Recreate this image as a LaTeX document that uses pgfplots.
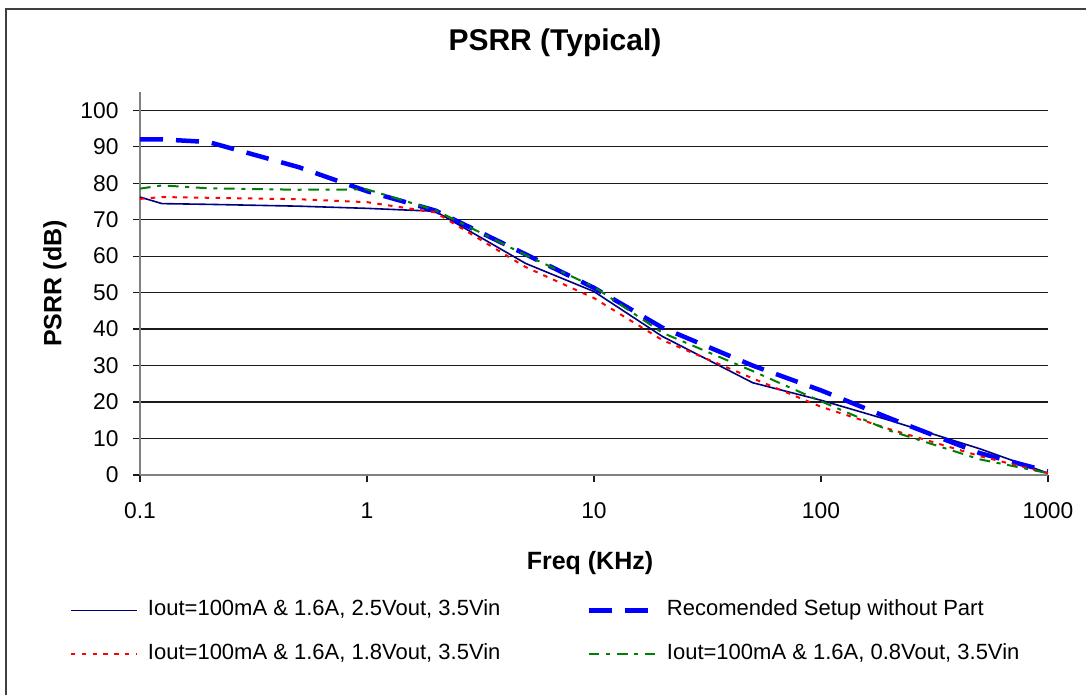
\documentclass[border=0pt]{standalone}
\usepackage{fontspec}
\setmainfont{Liberation Sans}
\usepackage{pgfplots}
\pgfplotsset{compat=1.18}
\definecolor{navyline}{HTML}{000080}
\definecolor{blueline}{HTML}{0000FF}
\definecolor{redline}{HTML}{FF0000}
\definecolor{greenline}{HTML}{008000}
\definecolor{gridc}{HTML}{1A1A1A}
\definecolor{axisc}{HTML}{808080}
\begin{document}
\begin{tikzpicture}[x=1pt,y=1pt]
\useasboundingbox (0,0) rectangle (1086,694);
\draw[line width=1.7pt, draw=black!75] (6,685) rectangle (1110,-30);
\begin{axis}[
  at={(140pt,219pt)}, anchor=south west,
  scale only axis, width=908pt, height=383pt,
  xmode=log, log basis x=10,
  xmin=0.1, xmax=1000, ymin=0, ymax=105,
  xtick={0.1,1,10,100,1000},
  xticklabels={0.1,1,10,100,1000},
  xminorticks=false,
  ytick={0,10,20,30,40,50,60,70,80,90,100},
  axis x line*=bottom, axis y line*=left,
  axis line style={draw=axisc, line width=1.6pt},
  ymajorgrids, grid style={gridc, line width=1.2pt},
  tick style={gridc, line width=1.2pt}, tick align=outside, major tick length=7pt,
  /pgf/number format/assume math mode=true,
  tick label style={font=\fontsize{22.8}{27}\selectfont},
  xticklabel style={yshift=-17pt},
  yticklabel style={xshift=-11pt},
  title={PSRR (Typical)},
  title style={at={(axis description cs:0.457,1.093)}, anchor=base, font=\fontsize{30}{36}\selectfont\bfseries},
  xlabel={Freq (KHz)}, ylabel={PSRR (dB)},
  label style={font=\fontsize{25}{30}\selectfont\bfseries},
  xlabel style={at={(axis description cs:0.4956,-0.229)}, anchor=center},
  ylabel style={at={(axis description cs:-0.0936,0.5)}, anchor=center},
  legend columns=2,
  legend image code/.code={\draw[#1] (0pt,0pt) -- (66pt,0pt);},
  legend style={draw=none, fill=none, inner sep=0pt, outer sep=0pt,
    at={(axis description cs:-0.0771,-0.3260)}, anchor=north west,
    font=\fontsize{22}{26}\selectfont, row sep=23pt,
    nodes={inner sep=0pt, text height=16pt, text depth=5pt},
    cells={anchor=west},
    /tikz/every odd column/.append style={column sep=10pt},
    /tikz/every even column/.append style={column sep=86pt}},
]
\addplot[navyline, line width=1.6pt] coordinates {
 (0.1,76.2) (0.125,74.4) (0.2,74.2) (0.5,73.7) (1,73.1) (2,72.3) (5,58) (10,50.3)
 (20,38) (50,25.3) (100,20.5) (200,15) (500,7.2) (1000,0.5)};
\addlegendentry{Iout=100mA \& 1.6A, 2.5Vout, 3.5Vin}
\addplot[blueline, line width=4.5pt, dash pattern=on 23pt off 13pt] coordinates {
 (0.1,92) (0.125,92) (0.2,91.3) (0.5,84.4) (1,77.8) (2,72.5) (5,60.5) (10,51.3)
 (20,40.4) (50,30) (100,23.2) (200,15.6) (500,6) (1000,1)};
\addlegendentry{Recomended Setup without Part}
\addplot[redline, line width=2pt, dash pattern=on 4.5pt off 6.3pt] coordinates {
 (0.1,75.7) (0.125,76.2) (0.2,76) (0.5,75.6) (1,74.8) (2,72) (5,57) (10,48.5)
 (20,37) (50,26.5) (100,18.7) (200,12.6) (500,5.2) (1000,0.5)};
\addlegendentry{Iout=100mA \& 1.6A, 1.8Vout, 3.5Vin}
\addplot[greenline, line width=2pt, dash pattern=on 10.7pt off 6.7pt on 4pt off 6.7pt] coordinates {
 (0.1,78.5) (0.125,79.4) (0.2,78.6) (0.5,78.2) (1,78.3) (2,72.6) (5,60.3) (10,51.6)
 (20,39) (50,28.5) (100,20.2) (200,12.2) (500,4.3) (1000,0.5)};
\addlegendentry{Iout=100mA \& 1.6A, 0.8Vout, 3.5Vin}
\end{axis}
\end{tikzpicture}
\end{document}
